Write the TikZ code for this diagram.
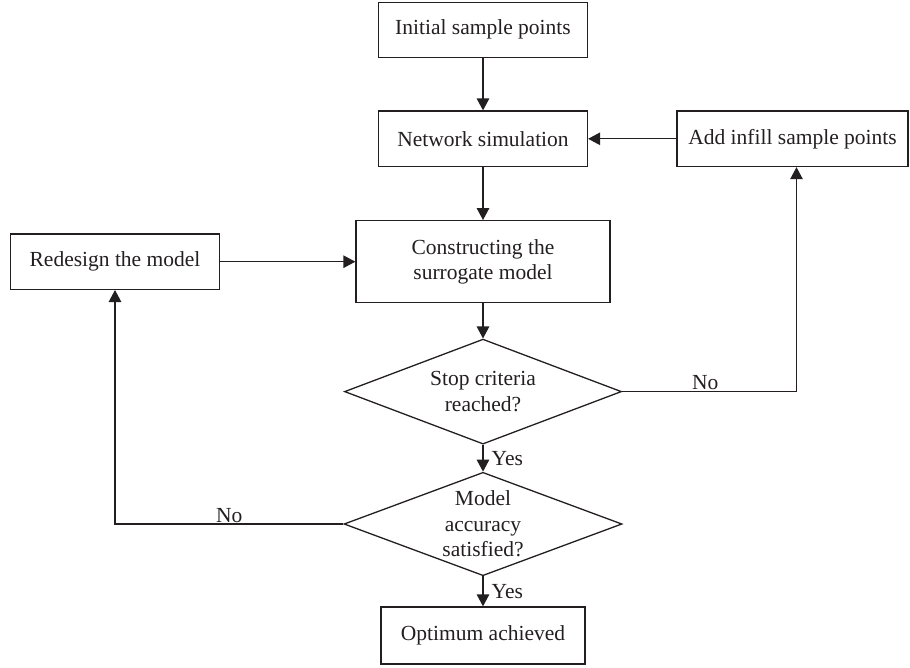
\documentclass[tikz,border=0pt]{standalone}
\usepackage{fontspec}
\setmainfont{Liberation Serif}
\usetikzlibrary{shapes.geometric,arrows.meta}
\definecolor{ink}{HTML}{231F20}
\begin{document}
\begin{tikzpicture}[x=1pt,y=-1pt,
  every node/.style={font=\fontsize{21.5}{25.5}\selectfont, text=ink},
  box/.style={draw=ink, line width=1.3pt, rectangle, inner sep=0pt, align=center},
  dec/.style={draw=ink, line width=1.3pt, diamond, shape aspect=2.6, inner sep=0pt, align=center},
  arr/.style={draw=ink, line width=1.3pt, -{Triangle[length=12pt,width=12.5pt]}},
  lab/.style={inner sep=2pt}
]
\useasboundingbox (0,0) rectangle (910,667);

\node[box, minimum width=209pt, minimum height=55pt] (init) at (483,29.7) {Initial sample points};
\node[box, minimum width=209pt, minimum height=55.5pt] (sim) at (483,138.8) {Network simulation};
\node[box, minimum width=231pt, minimum height=55.5pt] (infill) at (792.5,138.8) {Add infill sample points};
\node[box, minimum width=254pt, minimum height=82pt] (cons) at (483,261.7) {Constructing the\\surrogate model};
\node[box, minimum width=208.6pt, minimum height=55.3pt] (redes) at (115,261.7) {Redesign the model};
\node[dec, minimum width=277pt, minimum height=105pt] (stop) at (483,391.6) {Stop criteria\\reached?};
\node[dec, minimum width=278pt, minimum height=103.4pt] (acc) at (483,524) {Model\\accuracy\\satisfied?};
\node[box, minimum width=204pt, minimum height=57pt] (opt) at (483,635.5) {Optimum achieved};

\draw[arr] (init) -- (sim);
\draw[arr] (infill) -- (sim);
\draw[arr] (sim) -- (cons);
\draw[arr] (redes) -- (cons);
\draw[arr] (cons) -- (stop);
\draw[arr] (stop) -- node[lab, right, xshift=6pt] {Yes} (acc);
\draw[arr] (acc) -- node[lab, right, xshift=6pt] {Yes} (opt);
\draw[arr] (stop.east) -| node[lab, pos=0.25, above, xshift=-4pt, yshift=-1pt] {No} ([xshift=4pt]infill.south);
\draw[arr] (acc.west) -| node[lab, pos=0.25, above, yshift=-1pt] {No} (redes.south);
\end{tikzpicture}
\end{document}
